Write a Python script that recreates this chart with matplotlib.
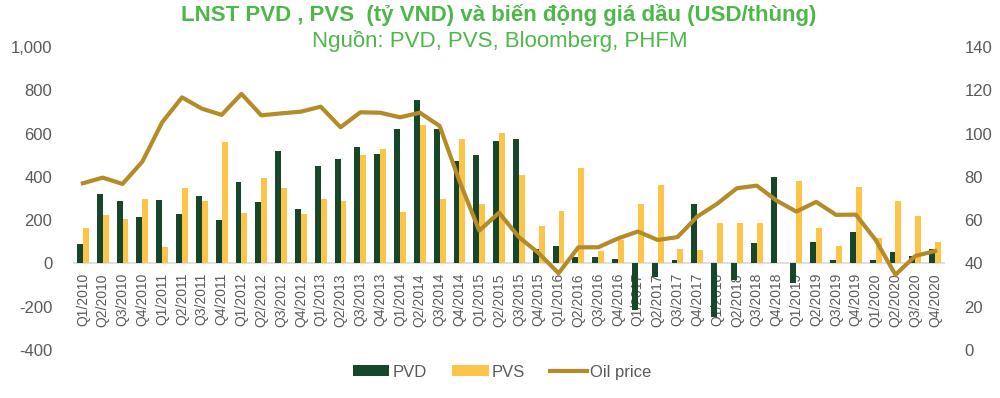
import matplotlib.pyplot as plt
import numpy as np

plt.rcParams["font.family"] = ["Liberation Sans", "DejaVu Sans"]

quarters = [f"Q{q}/{y}" for y in range(2010, 2021) for q in range(1, 5)]

pvd = [91, 321, 290, 212, 292, 228, 313, 202, 376, 284, 519, 250,
       449, 483, 536, 505, 619, 755, 619, 474, 499, 566, 576, 65,
       79, 29, 29, 22, -215, -62, 14, 273, -250, -77, 94, 400,
       -93, 100, 14, 147, 14, 54, 34, 66]
pvs = [165, 224, 207, 296, 76, 350, 286, 560, 233, 395, 349, 227,
       298, 289, 499, 529, 235, 640, 296, 576, 273, 603, 406, 173,
       241, 440, 57, 106, 273, 364, 68, 63, 185, 185, 185, 2,
       381, 165, 80, 353, 119, 287, 219, 97]
oil = [77.0, 79.6, 76.7, 87.0, 105.2, 116.7, 111.5, 108.6, 118.3, 108.4, 109.3, 110.1,
       112.4, 102.9, 109.8, 109.6, 107.5, 109.6, 103.5, 78.0, 55.1, 63.4, 52.1, 44.7,
       35.4, 47.4, 47.4, 51.5, 54.7, 50.8, 52.1, 61.6, 67.5, 74.7, 75.9, 69.0,
       63.9, 68.4, 62.4, 62.5, 50.8, 34.7, 43.4, 45.7]

c_pvd = "#17472a"
c_pvs = "#fcc449"
c_oil = "#b58b27"
c_txt = "#595959"
c_title = "#4cb848"

fig = plt.figure(figsize=(10, 3.98), dpi=100)
ax = fig.add_axes([0.073, 0.121, 0.872, 0.761])
x = np.arange(len(quarters))
w = 0.3
ax.bar(x - w / 2, pvd, width=w, color=c_pvd, label="PVD", zorder=3)
ax.bar(x + w / 2, pvs, width=w, color=c_pvs, label="PVS", zorder=3)
ax.set_xlim(-0.5, len(quarters) - 0.5)
ax.set_ylim(-400, 1000)
ax.spines["bottom"].set_position(("data", 0))
ax.spines["bottom"].set_visible(False)
for s in ["top", "left", "right"]:
    ax.spines[s].set_visible(False)
ax.set_yticks(range(-400, 1001, 200))
ax.set_yticklabels([f"{v:,}" for v in range(-400, 1001, 200)])
ax.axhline(0, color="#d9d9d9", lw=1.2, zorder=2)
ax.set_xticks(x)
ax.set_xticklabels(quarters)
ax.tick_params(axis="x", length=0, pad=7, labelrotation=90, labelsize=10,
               labelcolor=c_txt)
ax.tick_params(axis="y", length=0, labelsize=12, labelcolor=c_txt, pad=15)

ax2 = ax.twinx()
ax2.plot(x, oil, color=c_oil, lw=3, label="Oil price", zorder=4)
ax2.set_ylim(0, 140)
ax2.set_yticks(range(0, 141, 20))
ax2.tick_params(axis="y", length=0, labelsize=12, labelcolor=c_txt, pad=14)
for s in ax2.spines.values():
    s.set_visible(False)

fig.text(0.499, 0.948, "LNST PVD , PVS  (tỷ VND) và biến động giá dầu (USD/thùng)",
         ha="center", va="baseline", fontsize=16, fontweight="bold", color=c_title)
fig.text(0.5, 0.882, "Nguồn: PVD, PVS, Bloomberg, PHFM",
         ha="center", va="baseline", fontsize=16, color=c_title)

h1, l1 = ax.get_legend_handles_labels()
h2, l2 = ax2.get_legend_handles_labels()
fig.legend(h1 + h2, l1 + l2, loc="center", bbox_to_anchor=(0.502, 0.065), ncol=3,
           frameon=False, fontsize=12, labelcolor=c_txt, handlelength=2.2,
           handleheight=0.6, handletextpad=0.2, columnspacing=1.5)

fig.savefig("out.png", dpi=100)
